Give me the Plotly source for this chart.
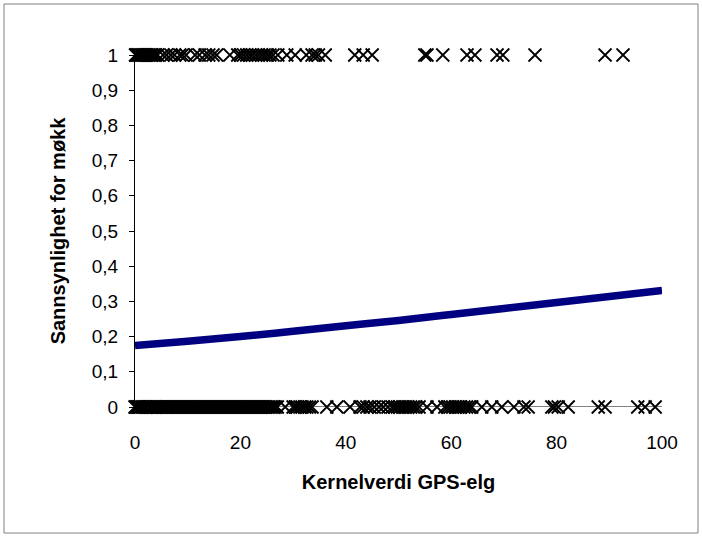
import plotly.graph_objects as go

# Observations with dung present (y = 1)
x_mokk = [0.1, 0.3, 0.5, 0.7, 0.9, 1.1, 1.3, 1.5, 1.7, 1.9, 2.1, 2.3, 2.6, 2.9, 3.2,
          3.5, 3.9, 4.3, 5.3, 6.0, 6.8, 7.5, 8.5, 9.0, 9.7, 11.4, 12.2, 13.3, 14.0,
          14.8, 15.5, 18.0, 19.5, 20.0, 20.6, 21.2, 21.8, 22.3, 22.9, 23.4, 24.0,
          24.5, 25.1, 25.6, 26.2, 27.1, 28.8, 30.4, 32.5, 33.6, 34.2, 34.8, 36.1,
          41.7, 43.3, 45.0, 55.0, 55.4, 58.4, 63.0, 64.5, 68.7, 69.8, 75.9, 89.2, 92.6]
y_mokk = [1] * len(x_mokk)

# Observations without dung (y = 0)
x_ingen = [0.0, 0.2, 0.4, 0.6, 0.8, 1.0, 1.3, 1.5, 1.8, 2.0, 2.3, 2.6, 2.9, 3.1, 3.4,
           3.7, 4.0, 4.2, 4.5, 4.8, 5.1, 5.4, 5.7, 6.0, 6.2, 6.5, 6.8, 7.1, 7.4, 7.7,
           8.0, 8.3, 8.6, 8.9, 9.2, 9.5, 9.8, 10.1, 10.4, 10.7, 11.0, 11.3, 11.6, 11.9,
           12.2, 12.5, 12.8, 13.1, 13.4, 13.7, 14.0, 14.3, 14.6, 14.9, 15.2, 15.5, 15.8,
           16.1, 16.4, 16.7, 17.0, 17.3, 17.6, 17.9, 18.2, 18.5, 18.8, 19.1, 19.4, 19.7,
           20.0, 20.3, 20.6, 20.9, 21.2, 21.5, 21.8, 22.1, 22.4, 22.7, 23.0, 23.3, 23.6,
           23.9, 24.2, 24.5, 24.8, 25.1, 25.4, 25.7, 26.0, 26.3, 26.6, 27.0, 28.5, 30.0,
           30.4, 30.8, 31.3, 31.7, 32.2, 32.6, 33.1, 33.6, 36.4, 38.3, 40.8, 42.7, 43.3,
           44.0, 44.6, 45.4, 46.3, 47.1, 48.0, 48.8, 49.3, 49.8, 50.3, 50.8, 51.3, 51.8,
           52.3, 52.8, 53.3, 53.9, 55.4, 57.3, 58.8, 59.3, 59.8, 60.3, 60.8, 61.3, 61.8,
           62.4, 62.9, 63.4, 63.9, 65.8, 67.7, 69.6, 71.9, 73.8, 74.6, 79.1, 79.6, 80.3,
           82.2, 87.9, 89.2, 95.4, 96.8, 98.7]
y_ingen = [0] * len(x_ingen)

# Fitted probability curve
x_kurve = [0, 10, 20, 30, 40, 50, 60, 70, 80, 90, 100]
y_kurve = [0.175, 0.187, 0.200, 0.215, 0.231, 0.246, 0.263, 0.280, 0.297, 0.314, 0.331]

y_ticks = [0, 0.1, 0.2, 0.3, 0.4, 0.5, 0.6, 0.7, 0.8, 0.9, 1]
y_ticktext = ["0", "0,1", "0,2", "0,3", "0,4", "0,5", "0,6", "0,7", "0,8", "0,9", "1"]
x_ticks = [0, 20, 40, 60, 80, 100]

FONT = "Arial, 'Liberation Sans', sans-serif"

marker = dict(symbol="x-thin-open", size=13, color="black",
              line=dict(color="black", width=1.8))

fig = go.Figure()
fig.add_trace(go.Scatter(x=x_mokk, y=y_mokk, mode="markers", marker=marker,
                         cliponaxis=False, showlegend=False))
fig.add_trace(go.Scatter(x=x_ingen, y=y_ingen, mode="markers", marker=marker,
                         cliponaxis=False, showlegend=False))
fig.add_trace(go.Scatter(x=x_kurve, y=y_kurve, mode="lines", line_shape="spline",
                         line=dict(color="#000080", width=7.5),
                         cliponaxis=False, showlegend=False))

fig.update_layout(
    width=702, height=536,
    margin=dict(l=135, r=40, t=55, b=129),
    paper_bgcolor="white", plot_bgcolor="white",
    font=dict(family=FONT, color="black", size=19),
    xaxis=dict(range=[0, 100], tickvals=x_ticks, ticks="", showgrid=False,
               zeroline=False, showline=False, ticklabelstandoff=22,
               tickfont=dict(size=19),
               title=dict(text="<b>Kernelverdi GPS-elg</b>", font=dict(size=20),
                          standoff=22)),
    yaxis=dict(range=[0, 1], tickvals=y_ticks, ticktext=y_ticktext, ticks="outside",
               ticklen=5, tickcolor="black", showgrid=False, zeroline=False,
               showline=True, linecolor="black", linewidth=1,
               ticklabelstandoff=7, tickfont=dict(size=19),
               title=dict(text="<b>Sannsynlighet for møkk</b>", font=dict(size=20),
                          standoff=20)),
    shapes=[
        dict(type="line", xref="x", yref="y", x0=0, x1=100, y0=0, y1=0,
             line=dict(color="black", width=1), layer="below"),
        dict(type="rect", xref="paper", yref="paper",
             x0=-0.2486, x1=1.0683, y0=-0.358, y1=1.1449,
             line=dict(color="#808080", width=1)),
    ],
)

fig.write_html("out.html", config={"displayModeBar": False},
               post_script="document.body.style.margin='0';")
